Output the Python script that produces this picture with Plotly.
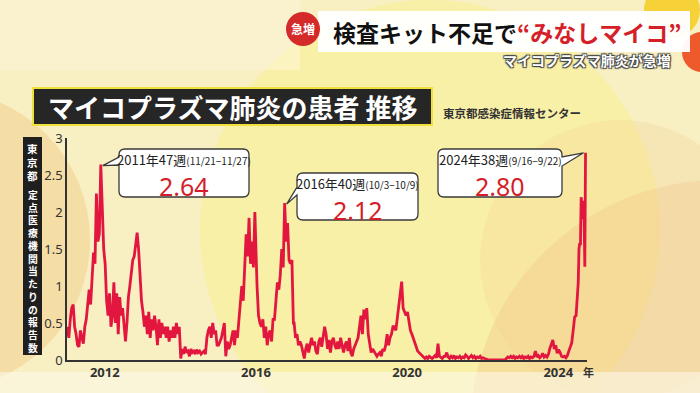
import plotly.graph_objects as go

# ---------------- data ----------------
WEEKS_ODD = list(range(1, 52, 2))
WEEKS_EVEN = list(range(2, 53, 2))
WEEKS_2024 = [1, 3, 5, 7, 9, 11, 13, 15, 17, 19, 21, 23, 25, 27, 28, 29, 30, 31, 32, 33, 34, 35, 36, 37, 38]

v2011 = [0.45, 0.3, 0.55, 0.7, 0.75, 0.45, 0.35, 0.2, 0.18, 0.4, 0.3, 0.22, 0.45, 0.55, 0.75, 0.95, 0.75, 1.2, 1.45, 1.3, 2.25, 1.6, 1.7, 2.64, 2.07, 1.5]
v2012 = [1.3, 0.8, 0.6, 0.9, 0.45, 0.6, 1.05, 0.5, 0.9, 0.35, 0.85, 0.6, 0.7, 0.45, 0.25, 0.5, 0.85, 1.0, 1.2, 1.35, 1.4, 1.6, 1.72, 1.5, 1.1, 0.8]
v2013 = [0.65, 0.45, 0.6, 0.35, 0.65, 0.3, 0.55, 0.4, 0.6, 0.45, 0.2, 0.55, 0.3, 0.5, 0.35, 0.45, 0.3, 0.45, 0.25, 0.4, 0.3, 0.45, 0.3, 0.5, 0.35, 0.45]
v2014 = [0.02, 0.15, 0.08, 0.18, 0.1, 0.12, 0.05, 0.15, 0.1, 0.12, 0.08, 0.14, 0.1, 0.12, 0.08, 0.1, 0.12, 0.08, 0.3, 0.4, 0.45, 0.3, 0.5, 0.35, 0.4, 0.2]
v2015 = [0.2, 0.25, 0.3, 0.4, 0.5, 0.05, 0.25, 0.15, 0.2, 0.3, 0.4, 0.2, 0.4, 0.3, 0.55, 0.8, 1.0, 0.8, 1.2, 1.7, 1.4, 1.92, 1.3, 1.6, 1.25, 2.0]
v2016 = [1.0, 0.6, 0.5, 0.45, 0.55, 0.3, 0.45, 0.2, 0.35, 0.4, 0.25, 0.55, 0.55, 0.75, 1.05, 0.95, 1.15, 1.5, 1.25, 2.12, 1.6, 1.85, 1.35, 1.3, 1.35, 0.5]
v2017 = [0.5, 0.3, 0.35, 0.2, 0.25, 0.2, 0.12, 0.02, 0.15, 0.22, 0.1, 0.18, 0.3, 0.2, 0.25, 0.12, 0.08, 0.25, 0.3, 0.18, 0.35, 0.45, 0.35, 0.15, 0.27, 0.1]
v2018 = [0.25, 0.3, 0.2, 0.15, 0.25, 0.15, 0.3, 0.2, 0.1, 0.2, 0.25, 0.12, 0.3, 0.1, 0.05, 0.15, 0.2, 0.27, 0.3, 0.45, 0.6, 0.35, 0.68, 0.55, 0.7, 0.35]
v2019 = [0.2, 0.1, 0.15, 0.12, 0.08, 0.05, 0.08, 0.1, 0.05, 0.15, 0.12, 0.2, 0.35, 0.2, 0.3, 0.35, 0.45, 0.45, 0.4, 0.55, 0.7, 0.9, 1.06, 0.7, 0.65, 0.6]
v2020 = [0.65, 0.5, 0.4, 0.35, 0.3, 0.25, 0.18, 0.12, 0.1, 0.08, 0.05, 0.03, 0.02, 0.04, 0.02, 0.05, 0.03, 0.02, 0.04, 0.06, 0.03, 0.22, 0.05, 0.03, 0.02, 0.05]
v2021 = [0.05, 0.1, 0.04, 0.02, 0.05, 0.03, 0.06, 0.02, 0.04, 0.03, 0.05, 0.02, 0.04, 0.03, 0.07, 0.05, 0.02, 0.04, 0.06, 0.03, 0.05, 0.02, 0.04, 0.03, 0.05, 0.02]
v2022 = [0.03, 0.02, 0.01, 0, 0, 0, 0, 0, 0, 0, 0, 0, 0, 0, 0, 0, 0.02, 0.04, 0.03, 0.05, 0.03, 0.05, 0.02, 0.04, 0.03, 0.05]
v2023 = [0.03, 0.05, 0.02, 0.04, 0.03, 0.05, 0.02, 0.04, 0.03, 0.05, 0.12, 0.04, 0.06, 0.03, 0.05, 0.09, 0.04, 0.06, 0.04, 0.08, 0.16, 0.22, 0.27, 0.15, 0.2, 0.09]
v2024 = [0.14, 0.1, 0.05, 0.04, 0.05, 0.03, 0.06, 0.12, 0.18, 0.23, 0.4, 0.58, 0.6, 0.9, 1.05, 1.5, 1.58, 1.55, 2.2, 2.1, 2.15, 1.9, 2.0, 1.26, 2.80]

SERIES = [
    (2011, WEEKS_ODD, v2011), (2012, WEEKS_ODD, v2012), (2013, WEEKS_ODD, v2013),
    (2014, WEEKS_ODD, v2014), (2015, WEEKS_ODD, v2015), (2016, WEEKS_EVEN, v2016),
    (2017, WEEKS_ODD, v2017), (2018, WEEKS_ODD, v2018), (2019, WEEKS_ODD, v2019),
    (2020, WEEKS_ODD, v2020), (2021, WEEKS_ODD, v2021), (2022, WEEKS_ODD, v2022),
    (2023, WEEKS_ODD, v2023), (2024, WEEKS_2024, v2024),
]

TICK_YEARS = [2012, 2016, 2020, 2024]
Y_TICKS = [0, 0.5, 1, 1.5, 2, 2.5, 3]
Y_TICK_TEXT = ["0", "0.5", "1", "1.5", "2", "2.5", "3"]

CALLOUTS = [
    # (year, week, value, label, period)
    (2011, 47, 2.64, "2011年47週", "(11/21−11/27)"),
    (2016, 40, 2.12, "2016年40週", "(10/3−10/9)"),
    (2024, 38, 2.80, "2024年38週", "(9/16−9/22)"),
]

# ---------------- build x positions (decimal year) ----------------
xs, ys = [], []
for year, weeks, vals in SERIES:
    for w, v in zip(weeks, vals):
        xs.append(year + (w - 0.5) / 52.0)
        ys.append(v)

# ---------------- geometry helpers (pixel -> paper) ----------------
W, H = 700, 393
L, R, T, B = 67, 587, 138, 360
X_MIN, X_MAX = 2011.0, 2024.76


def px(x):
    return (x - L) / (R - L)


def py(y):
    return (B - y) / (B - T)


JP = "Noto Sans CJK JP"

fig = go.Figure()
fig.add_trace(go.Scatter(
    x=xs, y=ys, mode="lines",
    line=dict(color="#e3163f", width=2.8),
    hoverinfo="skip", showlegend=False,
))

shapes = []
annotations = []


def note(text, x, y, size, color, family=JP, xanchor="center", yanchor="middle", **kw):
    annotations.append(dict(text=text, x=px(x), y=py(y), xref="paper", yref="paper",
                            xanchor=xanchor, yanchor=yanchor, showarrow=False,
                            font=dict(family=family, size=size, color=color, **kw)))


def circle(cx, cy, r, color, layer="below"):
    shapes.append(dict(type="circle", xref="paper", yref="paper",
                       x0=px(cx - r), x1=px(cx + r), y0=py(cy + r), y1=py(cy - r),
                       fillcolor=color, line=dict(width=0), layer=layer))


def rect(x0, y0, x1, y1, fill, line_color=None, lw=0, layer="below"):
    shapes.append(dict(type="rect", xref="paper", yref="paper",
                       x0=px(x0), x1=px(x1), y0=py(y1), y1=py(y0),
                       fillcolor=fill,
                       line=dict(width=lw, color=line_color or fill), layer=layer))


# ---------- background blobs ----------
circle(-60, 240, 150, "rgba(240,185,110,0.32)")
circle(430, 230, 230, "rgba(250,242,140,0.50)")
circle(720, 430, 250, "rgba(238,185,130,0.30)")
circle(620, 260, 140, "rgba(240,200,140,0.22)")
rect(0, 0, 300, 70, "rgba(252,246,225,0.45)")
rect(0, 372, 700, 393, "rgba(252,248,232,0.6)")
circle(672, 10, 28, "rgba(245,205,40,0.9)")
circle(702, 52, 20, "#ee5a2c")

# ---------- top banner ----------
rect(318, 11, 690, 52, "rgba(255,255,255,0.96)")
circle(303, 29, 17, "#d42a2a", layer="above")
note("<b>急増</b>", 303, 29, 12, "white")
note("<b>検査キット不足で<span style='color:#d5202a'>“みなしマイコ”</span></b>",
     331, 32, 23, "#111111", xanchor="left")
note("<b>マイコプラズマ肺炎が急増</b>", 673, 60, 14, "white", xanchor="right",
     shadow="1px 1px 1px #444, -1px -1px 1px #444, 1px -1px 1px #444, -1px 1px 1px #444")

# ---------- chart title box ----------
rect(33, 88, 432, 125, "#262626", line_color="#efe13a", lw=2, layer="above")
note("<b>マイコプラズマ肺炎の患者 推移</b>", 232, 106.5, 26, "white")
note("<b>東京都感染症情報センター</b>", 441, 113, 11.5, "#333333", xanchor="left")

# ---------- vertical y-axis title (stacked characters) ----------
rect(23, 137, 42, 355, "#1f1f1f", layer="above")
note("<b>" + "<br>".join("東京都") + "</b>", 32.5, 162, 10.5, "white")
note("<b>" + "<br>".join("定点医療機関当たりの報告数") + "</b>", 32.5, 271, 9.8, "white")

# ---------- "年" ----------
note("<b>年</b>", 588, 372, 11, "#333333")


# ---------- callouts ----------
def rounded_path(x0, y0, x1, y1, r, tail=None):
    def P(x, y):
        return f"{px(x):.5f},{py(y):.5f}"
    d = f"M {P(x0 + r, y0)} L {P(x1 - r, y0)} Q {P(x1, y0)} {P(x1, y0 + r)} "
    if tail and tail[0] == "right":
        _, a, tip, b = tail
        d += f"L {P(x1, a)} L {P(tip[0], tip[1])} L {P(x1, b)} "
    d += f"L {P(x1, y1 - r)} Q {P(x1, y1)} {P(x1 - r, y1)} L {P(x0 + r, y1)} Q {P(x0, y1)} {P(x0, y1 - r)} "
    if tail and tail[0] == "left":
        _, a, tip, b = tail
        d += f"L {P(x0, b)} L {P(tip[0], tip[1])} L {P(x0, a)} "
    d += f"L {P(x0, y0 + r)} Q {P(x0, y0)} {P(x0 + r, y0)} Z"
    return d


def data_px(year, week, val):
    xv = year + (week - 0.5) / 52.0
    xpix = L + (xv - X_MIN) / (X_MAX - X_MIN) * (R - L)
    ypix = B - val / 3.0 * (B - T)
    return xpix, ypix


boxes = [
    dict(box=(119, 149, 249, 197), tail=("left", 157, 165)),
    dict(box=(297, 173, 418, 220), tail=("left", 187, 195)),
    dict(box=(438, 149, 562, 197), tail=("right", 157, 166)),
]

for (yr, wk, val, lab, per), bx in zip(CALLOUTS, boxes):
    x0, y0, x1, y1 = bx["box"]
    tx, ty = data_px(yr, wk, val)
    tip = (tx + 2, ty + 1) if bx["tail"][0] == "left" else (tx - 2, ty)
    side, a, b = bx["tail"]
    shapes.append(dict(type="path", xref="paper", yref="paper",
                       path=rounded_path(x0, y0, x1, y1, 6, (side, a, tip, b)),
                       fillcolor="white", line=dict(color="#3a3a3a", width=1.3), layer="above"))
    note(f"{lab}<span style='font-size:10px'>{per}</span>", (x0 + x1) / 2, y0 + 10, 13, "#222222")
    note(f"{val:.2f}", (x0 + x1) / 2, y0 + 36.5, 25, "#d41f2a", family="Noto Sans")

fig.update_layout(
    width=W, height=H,
    margin=dict(l=L, r=W - R, t=T, b=H - B),
    paper_bgcolor="#f8efc2",
    plot_bgcolor="rgba(0,0,0,0)",
    showlegend=False,
    shapes=shapes,
    annotations=annotations,
    xaxis=dict(range=[X_MIN, X_MAX], tickvals=TICK_YEARS, ticktext=[str(y) for y in TICK_YEARS],
               showgrid=False, zeroline=False, showline=True, linecolor="#333333", linewidth=1.5,
               ticks="", tickfont=dict(family="Noto Sans", size=13, color="#333333", weight="bold"),
               fixedrange=True),
    yaxis=dict(range=[0, 3], tickvals=Y_TICKS, ticktext=Y_TICK_TEXT,
               showgrid=False, zeroline=False, showline=True, linecolor="#333333", linewidth=1.5,
               ticks="", tickfont=dict(family="Noto Sans", size=13, color="#333333"),
               fixedrange=True),
)

fig.write_html("out.html", config={"displayModeBar": False},
               post_script="document.body.style.margin='0';document.body.style.overflow='hidden';")
